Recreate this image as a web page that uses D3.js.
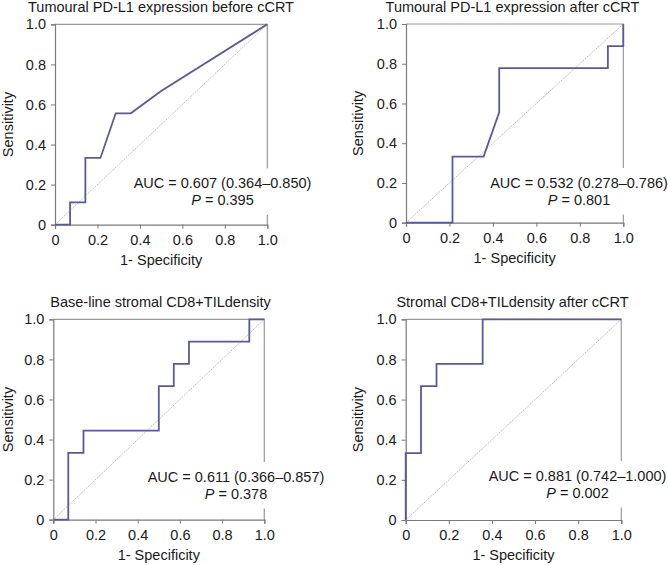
<!DOCTYPE html>
<html>
<head>
<meta charset="utf-8">
<script src="https://cdn.jsdelivr.net/npm/d3@7"></script>
<style>
  html, body { margin: 0; padding: 0; background: #fff; }
  svg { display: block; font-family: "Liberation Sans", Arial, sans-serif; }
</style>
</head>
<body>
<svg id="chart" width="668" height="565"></svg>
<script>
// ---- data ----
const tickValues = [0, 0.2, 0.4, 0.6, 0.8, 1.0];
const tickLabels = ["0", "0.2", "0.4", "0.6", "0.8", "1.0"];

const titles = [
  "Tumoural PD-L1 expression before cCRT",
  "Tumoural PD-L1 expression after cCRT",
  "Base-line stromal CD8+TILdensity",
  "Stromal CD8+TILdensity after cCRT"
];
const aucLabels = [
  "AUC = 0.607 (0.364\u20130.850)",
  "AUC = 0.532 (0.278\u20130.786)",
  "AUC = 0.611 (0.366\u20130.857)",
  "AUC = 0.881 (0.742\u20131.000)"
];
const pValues = ["0.395", "0.801", "0.378", "0.002"];

const fpr1 = [0, 0.071, 0.071, 0.143, 0.143, 0.214, 0.286, 0.357, 0.5, 1];
const tpr1 = [0, 0, 0.111, 0.111, 0.333, 0.333, 0.556, 0.556, 0.667, 1];
const fpr2 = [0, 0.214, 0.214, 0.357, 0.429, 0.429, 0.929, 0.929, 1, 1];
const tpr2 = [0, 0, 0.333, 0.333, 0.556, 0.778, 0.778, 0.889, 0.889, 1];
const fpr3 = [0, 0.071, 0.071, 0.143, 0.143, 0.5, 0.5, 0.571, 0.571, 0.643, 0.643, 0.929, 0.929, 1];
const tpr3 = [0, 0, 0.333, 0.333, 0.444, 0.444, 0.667, 0.667, 0.778, 0.778, 0.889, 0.889, 1, 1];
const fpr4 = [0, 0, 0.071, 0.071, 0.143, 0.143, 0.357, 0.357, 1];
const tpr4 = [0, 0.333, 0.333, 0.667, 0.667, 0.778, 0.778, 1, 1];

const fprs = [fpr1, fpr2, fpr3, fpr4];
const tprs = [tpr1, tpr2, tpr3, tpr4];

// ---- layout (pixel positions of each panel) ----
const layout = [
  { left: 55,    right: 267.3, top: 24.3,  bottom: 224.7, textX: 222.5, aucY: 188.3, ylabX: 12.5,  titleX: 161 },
  { left: 406,   right: 623.3, top: 24,    bottom: 222.7, textX: 579,   aucY: 188,   ylabX: 362.7, titleX: 512.5 },
  { left: 53.3,  right: 264.3, top: 319.3, bottom: 519.7, textX: 236,   aucY: 482,   ylabX: 12.5,  titleX: 160.5 },
  { left: 405.7, right: 621.3, top: 319.3, bottom: 520,   textX: 577.5, aucY: 481,   ylabX: 362.7, titleX: 512.5 }
];

const FS = 14.5;
const textColor = "#1a1a1a";
const axisColor = "#7a7a7a";
const borderColor = "#9a9a9a";
const rocColor = "#5a5a98";

const svg = d3.select("#chart");

layout.forEach((L, i) => {
  const x = d3.scaleLinear().domain([0, 1]).range([L.left, L.right]);
  const y = d3.scaleLinear().domain([0, 1]).range([L.bottom, L.top]);
  const g = svg.append("g");

  // top & right border
  g.append("path")
    .attr("d", `M${x(0)},${y(1)}H${x(1)}V${y(0)}`)
    .attr("fill", "none").attr("stroke", borderColor).attr("stroke-width", 1.2);

  // axes
  const xAxis = d3.axisBottom(x).tickValues(tickValues)
    .tickFormat((d, k) => tickLabels[k]).tickSize(4).tickPadding(6);
  const yAxis = d3.axisLeft(y).tickValues(tickValues)
    .tickFormat((d, k) => tickLabels[k]).tickSize(4).tickPadding(5);

  const gx = g.append("g").attr("transform", `translate(0,${L.bottom})`).call(xAxis);
  const gy = g.append("g").attr("transform", `translate(${L.left},0)`).call(yAxis);
  [gx, gy].forEach(a => {
    a.select(".domain").attr("stroke", axisColor).attr("stroke-width", 1.2);
    a.selectAll(".tick line").attr("stroke", axisColor).attr("stroke-width", 1);
    a.selectAll(".tick text").attr("fill", textColor)
      .style("font-size", FS + "px").style("font-family", '"Liberation Sans", Arial, sans-serif');
  });

  // diagonal reference
  g.append("line")
    .attr("x1", x(0)).attr("y1", y(0)).attr("x2", x(1)).attr("y2", y(1))
    .attr("stroke", "#a8a8a8").attr("stroke-width", 0.8).attr("stroke-dasharray", "1.5,1");

  // ROC curve
  const pts = fprs[i].map((f, k) => [f, tprs[i][k]]);
  g.append("path")
    .datum(pts)
    .attr("d", d3.line().x(d => x(d[0])).y(d => y(d[1])))
    .attr("fill", "none").attr("stroke", rocColor).attr("stroke-width", 1.8)
    .attr("stroke-linejoin", "miter");

  // title
  g.append("text")
    .attr("x", L.titleX).attr("y", L.top - 12)
    .attr("text-anchor", "middle").attr("fill", textColor)
    .style("font-size", FS + "px").text(titles[i]);

  // axis labels
  g.append("text")
    .attr("x", (L.left + L.right) / 2).attr("y", L.bottom + 40)
    .attr("text-anchor", "middle").attr("fill", textColor)
    .style("font-size", FS + "px").text("1- Specificity");
  g.append("text")
    .attr("transform", `translate(${L.ylabX},${(L.top + L.bottom) / 2}) rotate(-90)`)
    .attr("text-anchor", "middle").attr("fill", textColor)
    .style("font-size", FS + "px").text("Sensitivity");

  // AUC annotation with white background
  const tg = g.append("g");
  const bg = tg.append("rect").attr("fill", "#fff");
  const t1 = tg.append("text")
    .attr("x", L.textX).attr("y", L.aucY)
    .attr("text-anchor", "middle").attr("fill", textColor)
    .style("font-size", FS + "px").text(aucLabels[i]);
  const t2 = tg.append("text")
    .attr("x", L.textX).attr("y", L.aucY + 16.5)
    .attr("text-anchor", "middle").attr("fill", textColor)
    .style("font-size", FS + "px");
  t2.append("tspan").style("font-style", "italic").text("P");
  t2.append("tspan").text(" = " + pValues[i]);
  const b1 = t1.node().getBBox();
  bg.attr("x", b1.x - 2).attr("y", L.aucY - 20)
    .attr("width", b1.width + 4).attr("height", 46.5);
});
</script>
</body>
</html>
